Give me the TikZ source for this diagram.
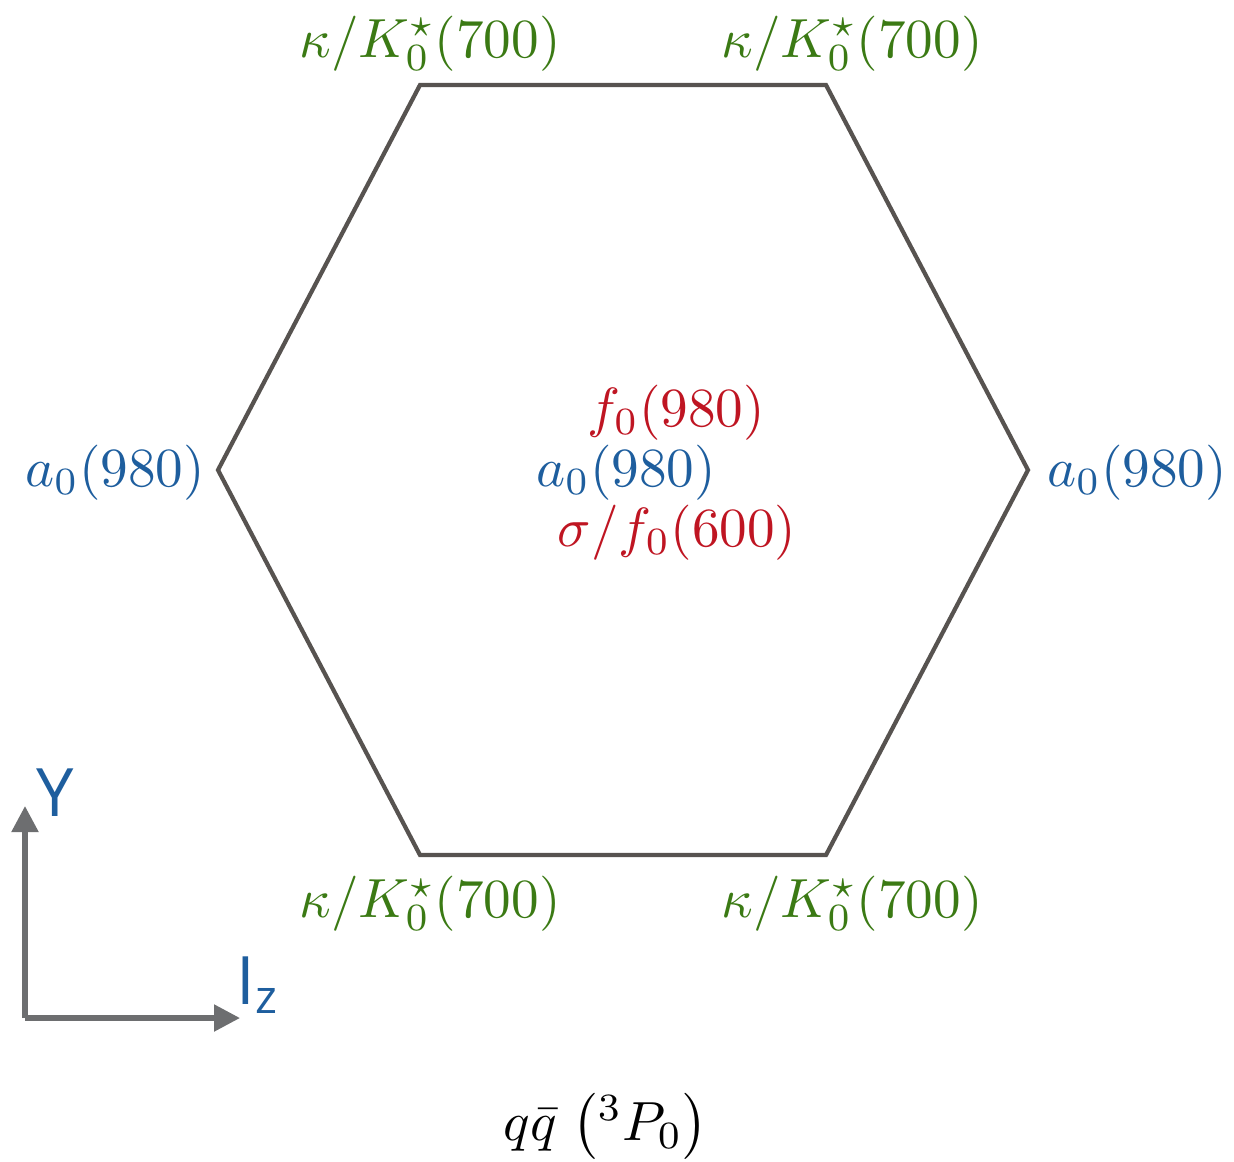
\documentclass[tikz,border=0pt]{standalone}
\usepackage{fontspec}
\usepackage{amsmath}
\usepackage{tikz}
\usetikzlibrary{arrows.meta,positioning,calc}
\newfontfamily\axisfont{Open Sans}
\definecolor{leaf}{HTML}{3B7A14}
\definecolor{ink}{HTML}{1E5E9E}
\definecolor{brick}{HTML}{BF1522}
\definecolor{edge}{HTML}{575350}
\definecolor{axis}{HTML}{6D6E70}
\tikzset{meson/.style={inner sep=0pt,anchor=base,font=\normalsize,scale=1.57,transform shape}, strange/.style={meson,text=leaf}, isovec/.style={meson,text=ink}, isoscal/.style={meson,text=brick}, hexline/.style={draw=edge,line width=1.2pt,line join=miter}, axisline/.style={draw=axis,line width=1.5pt,-{Triangle[length=2.6mm,width=2.6mm]}}, axislab/.style={inner sep=0pt,text=ink,font=\axisfont\fontsize{19}{22}\selectfont}}

\begin{document}
\begin{tikzpicture}[x=0.1mm,y=-0.1mm]
\useasboundingbox (0,0) rectangle (1234,1161);
% corners of the hexagon
\coordinate (tl) at (420,85);
\coordinate (tr) at (826,85);
\coordinate (rr) at (1028,470);
\coordinate (br) at (826,855);
\coordinate (bl) at (420,855);
\coordinate (ll) at (218,470);
\draw[hexline] (tl)--(tr)--(rr)--(br)--(bl)--(ll)--cycle;
% states on the corners
\node[strange] (ktl) at (430,57) {$\kappa/K_0^\star(700)$};
\node[strange] (ktr) at (852,57) {$\kappa/K_0^\star(700)$};
\node[strange] (kbl) at (430,917) {$\kappa/K_0^\star(700)$};
\node[strange] (kbr) at (852,917) {$\kappa/K_0^\star(700)$};
\node[isovec] (al) at (115,486) {$a_0(980)$};
\node[isovec] (ar) at (1137,486) {$a_0(980)$};
% states in the centre
\node[isoscal] (f) at (676,426) {$f_0(980)$};
\node[isovec] (ac) at (626,486) {$a_0(980)$};
\node[isoscal] (s) at (677,546) {$\sigma/f_0(600)$};
% axes
\coordinate (o) at (25,1018);
\coordinate (yend) at (25,806);
\coordinate (xend) at (240,1018);
\draw[axisline] (o)--(yend);
\draw[axisline] (o)--(xend);
\node[axislab] (ylab) at (55,793) {Y};
\node[axislab] (xlab) at (258,985) {I\textsubscript{z}};
\node[meson] (title) at (606,1140) {$q\bar{q}\;\bigl({}^3P_0\bigr)$};
\end{tikzpicture}
\end{document}
